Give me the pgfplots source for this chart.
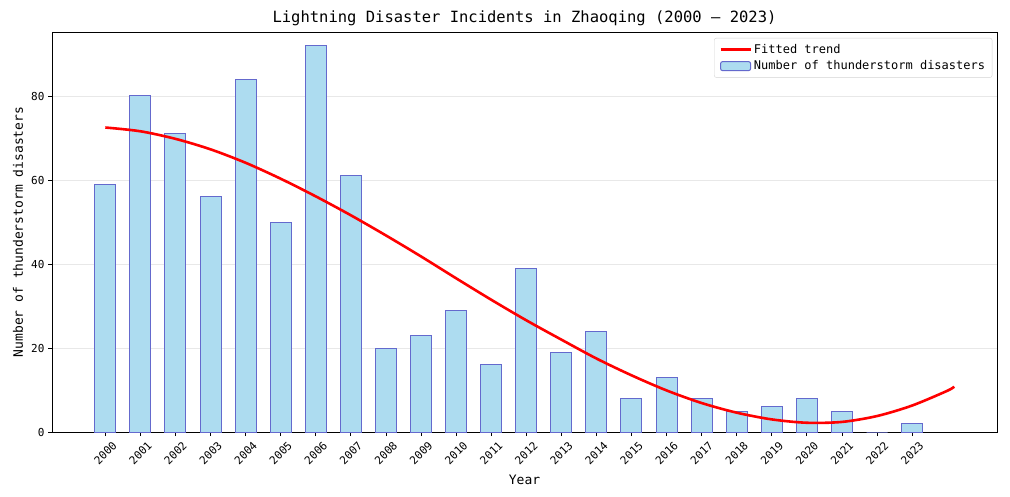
\documentclass[border=0pt]{standalone}
\usepackage{pgfplots}
\pgfplotsset{compat=1.18}
\usepackage{fontspec}
\setmainfont{DejaVu Sans Mono}
\definecolor{barfill}{RGB}{173,220,240}
\definecolor{baredge}{RGB}{100,105,205}
\pgfplotsset{
  barleg/.style={legend image code/.code={\draw[##1] (0pt,-4.5pt) rectangle (30pt,4.5pt);}},
  lineleg/.style={legend image code/.code={\draw[##1] (0pt,0pt) -- (30pt,0pt);}},
}
\begin{document}
\begin{tikzpicture}
\path[use as bounding box] (0,0) rectangle (1010pt,496pt);
\begin{axis}[
  at={(52pt,64pt)}, anchor=south west,
  scale only axis, width=945pt, height=400pt,
  xmin=1998.48, xmax=2025.42, ymin=0, ymax=95.24,
  xtick={2000,2001,...,2023},
  ytick={0,20,40,60,80},
  /pgf/number format/assume math mode=true,
  xticklabel={\pgfmathprintnumber[1000 sep={},fixed,precision=0]{\tick}},
  xticklabel style={yshift=-17pt, rotate=45, anchor=center, font=\fontsize{11}{13}\selectfont},
  yticklabel style={font=\fontsize{11}{13}\selectfont},
  tick align=outside, major tick length=4pt,
  xtick pos=bottom, ytick pos=left,
  axis line style={line width=0.9pt},
  tick style={line width=0.8pt, black},
  ymajorgrids, grid style={gray!18, line width=0.6pt},
  title={Lightning Disaster Incidents in Zhaoqing (2000 – 2023)},
  title style={at={(axis description cs:0.5,1)}, anchor=center, yshift=8pt, font=\fontsize{15.5}{18}\selectfont},
  xlabel={Year},
  xlabel style={at={(axis description cs:0.5,-0.12)}, anchor=center, font=\fontsize{13}{15}\selectfont},
  ylabel={Number of thunderstorm disasters},
  ylabel style={at={(axis description cs:-0.036,0.5)}, anchor=center, font=\fontsize{13}{15}\selectfont},
  legend style={at={(0.995,0.985)}, anchor=north east, draw=gray!35, rounded corners=2pt,
    font=\fontsize{12}{15}\selectfont, row sep=2pt, inner xsep=5pt, inner ysep=4pt},
  legend cell align=left,
  reverse legend,
]
\addplot[ybar, bar width=21pt, fill=barfill, draw=baredge, line width=1pt, barleg]
  coordinates {
  (2000,59) (2001,80) (2002,71) (2003,56) (2004,84) (2005,50) (2006,92) (2007,61)
  (2008,20) (2009,23) (2010,29) (2011,16) (2012,39) (2013,19) (2014,24) (2015,8)
  (2016,13) (2017,8) (2018,5) (2019,6) (2020,8) (2021,5) (2022,0) (2023,2)
  };
\addlegendentry{Number of thunderstorm disasters}
\addplot[red, line width=2.6pt, smooth, lineleg] coordinates {
  (2000,72.5) (2001,71.6) (2002,69.8) (2003,67.3) (2004,64.1) (2005,60.3)
  (2006,56.1) (2007,51.6) (2008,46.8) (2009,41.8) (2010,36.6) (2011,31.5)
  (2012,26.6) (2013,22.0) (2014,17.5) (2015,13.5) (2016,9.9) (2017,6.9)
  (2018,4.6) (2019,3.0) (2020,2.2) (2021,2.4) (2022,3.8) (2023,6.3)
  (2024,9.8) (2024.2,10.8)
};
\addlegendentry{Fitted trend}
\end{axis}
\end{tikzpicture}
\end{document}
